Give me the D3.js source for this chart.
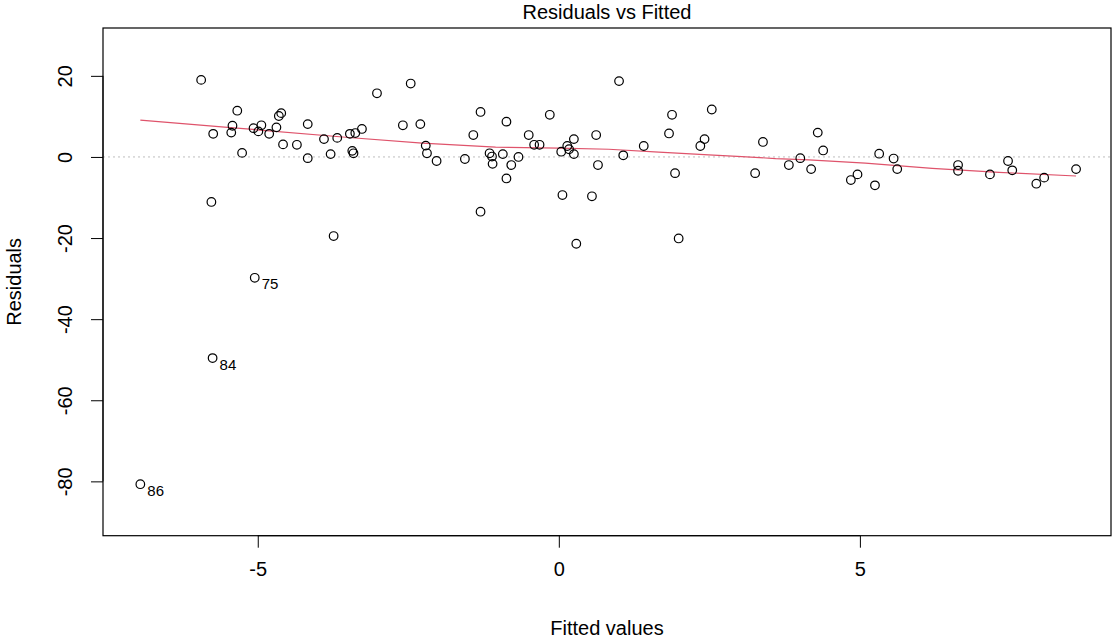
<!DOCTYPE html>
<html lang="en">
<head>
  <meta charset="UTF-8">
  <title>Residuals vs Fitted</title>
  <script src="https://d3js.org/d3.v7.min.js"></script>
  <style>
    body { margin: 0; background: #fff; font-family: "Liberation Sans", Arial, sans-serif; }
  </style>
</head>
<body>
  <div id="chart"></div>

  <script>
    // Fitted values and residuals
    const fitted = [
      -6.95, -5.94, -5.77, -5.75, -5.74, -5.44, -5.42, -5.34, -5.26, -5.07,
      -5.05, -4.99, -4.94, -4.81, -4.69, -4.65, -4.61, -4.58, -4.35, -4.17,
      -4.17, -3.90, -3.79, -3.74, -3.68, -3.47, -3.43, -3.41, -3.38, -3.27,
      -3.02, -2.59, -2.46, -2.30, -2.21, -2.19, -2.03, -1.56, -1.42, -1.30,
      -1.30, -1.15, -1.11, -1.10, -0.93, -0.87, -0.87, -0.79, -0.67, -0.50,
      -0.41, -0.32, -0.15, 0.04, 0.06, 0.14, 0.17, 0.25, 0.25, 0.29,
      0.55, 0.62, 0.65, 1.00, 1.07, 1.41, 1.83, 1.88, 1.93, 1.99,
      2.35, 2.42, 2.54, 3.26, 3.39, 3.82, 4.01, 4.19, 4.30, 4.39,
      4.85, 4.96, 5.25, 5.32, 5.56, 5.62, 6.63, 6.63, 7.16, 7.46,
      7.53, 7.93, 8.06, 8.59
    ];
    const residuals = [
      -80.7, 19.0, -11.1, -49.6, 5.7, 6.0, 7.7, 11.4, 1.0, 7.1,
      -29.8, 6.3, 7.8, 5.7, 7.3, 10.1, 10.8, 3.1, 3.0, 8.1,
      -0.3, 4.4, 0.7, -19.5, 4.7, 5.7, 1.5, 0.9, 5.9, 6.9,
      15.7, 7.8, 18.1, 8.1, 2.8, 0.9, -1.0, -0.5, 5.4, 11.1,
      -13.5, 0.9, 0.1, -1.7, 0.7, 8.7, -5.3, -2.0, 0.0, 5.4,
      3.0, 3.0, 10.4, 1.3, -9.4, 2.7, 1.9, 4.4, 0.7, -21.4,
      -9.7, 5.4, -2.0, 18.7, 0.4, 2.7, 5.8, 10.4, -4.0, -20.1,
      2.7, 4.4, 11.7, -4.0, 3.7, -2.0, -0.3, -3.0, 6.0, 1.6,
      -5.7, -4.3, -7.0, 0.8, -0.4, -3.0, -2.0, -3.4, -4.3, -1.0,
      -3.3, -6.6, -5.1, -3.0
    ];

    // Labelled outliers: index into the arrays above and observation id
    const outlierIndex = [0, 3, 10];
    const outlierId = ["86", "84", "75"];

    // Smoother (red line)
    const smoothX = [-6.95, -5.5, -3.49, -2.27, -1.05, 0, 0.83, 1.66, 2.49, 3.04, 3.6, 4.15, 5.09, 6.2, 7.31, 8.59];
    const smoothY = [9.1, 7.3, 4.8, 3.4, 2.4, 2.2, 1.9, 1.2, 0.5, 0.1, -0.4, -0.7, -1.5, -2.8, -3.8, -4.7];

    const xTicks = [-5, 0, 5];
    const yTicks = [-80, -60, -40, -20, 0, 20];

    const width = 1115;
    const height = 640;
    const box = { left: 103, right: 1111, top: 28, bottom: 535.7 };
    const font = "'Liberation Sans', Arial, sans-serif";

    const x = d3.scaleLinear().domain([-7.57, 9.17]).range([box.left, box.right]);
    const y = d3.scaleLinear().domain([-93.4, 31.8]).range([box.bottom, box.top]);

    const svg = d3.select("#chart").append("svg")
        .attr("width", width)
        .attr("height", height)
        .attr("font-family", font);

    // zero reference line
    svg.append("line")
        .attr("x1", box.left).attr("x2", box.right)
        .attr("y1", y(0)).attr("y2", y(0))
        .attr("stroke", "#bebebe")
        .attr("stroke-dasharray", "2,3");

    // smoother
    const smooth = smoothX.map((v, i) => [v, smoothY[i]]);
    svg.append("path")
        .datum(smooth)
        .attr("fill", "none")
        .attr("stroke", "#DF536B")
        .attr("stroke-width", 1.2)
        .attr("d", d3.line().x(d => x(d[0])).y(d => y(d[1])));

    // points
    const pts = fitted.map((v, i) => ({ f: v, r: residuals[i] }));
    svg.append("g")
        .attr("fill", "none")
        .attr("stroke", "#000")
        .attr("stroke-width", 1.2)
      .selectAll("circle")
      .data(pts)
      .join("circle")
        .attr("cx", d => x(d.f))
        .attr("cy", d => y(d.r))
        .attr("r", 4.3);

    // outlier labels
    svg.append("g")
        .attr("font-size", 15)
        .attr("fill", "#000")
      .selectAll("text")
      .data(outlierIndex)
      .join("text")
        .attr("x", i => x(fitted[i]) + 7)
        .attr("y", i => y(residuals[i]) + 11.5)
        .text((i, k) => outlierId[k]);

    // box
    svg.append("rect")
        .attr("x", box.left).attr("y", box.top)
        .attr("width", box.right - box.left)
        .attr("height", box.bottom - box.top)
        .attr("fill", "none")
        .attr("stroke", "#000")
        .attr("stroke-width", 1.2);

    // plain hyphen minus like R
    const fmt = d => String(d);

    // x axis
    const xAxis = svg.append("g")
        .attr("transform", `translate(0,${box.bottom})`)
        .call(d3.axisBottom(x).tickValues(xTicks).tickSize(12).tickPadding(14).tickFormat(fmt));
    xAxis.select(".domain")
        .attr("d", `M${x(xTicks[0])},0H${x(xTicks[xTicks.length - 1])}`);
    xAxis.selectAll("text").attr("font-size", 20).attr("fill", "#000")
        .attr("font-family", font);

    // y axis, labels rotated like base R
    const yAxis = svg.append("g")
        .attr("transform", `translate(${box.left},0)`)
        .call(d3.axisLeft(y).tickValues(yTicks).tickSize(12).tickFormat(fmt));
    yAxis.select(".domain")
        .attr("d", `M0,${y(yTicks[0])}V${y(yTicks[yTicks.length - 1])}`);
    yAxis.selectAll("text")
        .attr("font-size", 20).attr("fill", "#000")
        .attr("font-family", font)
        .attr("x", null).attr("dy", null)
        .attr("text-anchor", "middle")
        .attr("dominant-baseline", "central")
        .attr("transform", "translate(-38,0) rotate(-90)");

    // titles
    svg.append("text")
        .attr("x", (box.left + box.right) / 2)
        .attr("y", 19)
        .attr("text-anchor", "middle")
        .attr("font-size", 20)
        .text("Residuals vs Fitted");

    svg.append("text")
        .attr("x", (box.left + box.right) / 2)
        .attr("y", 635)
        .attr("text-anchor", "middle")
        .attr("font-size", 20)
        .text("Fitted values");

    svg.append("text")
        .attr("transform", `translate(21,${(box.top + box.bottom) / 2}) rotate(-90)`)
        .attr("text-anchor", "middle")
        .attr("font-size", 20)
        .text("Residuals");
  </script>
</body>
</html>
